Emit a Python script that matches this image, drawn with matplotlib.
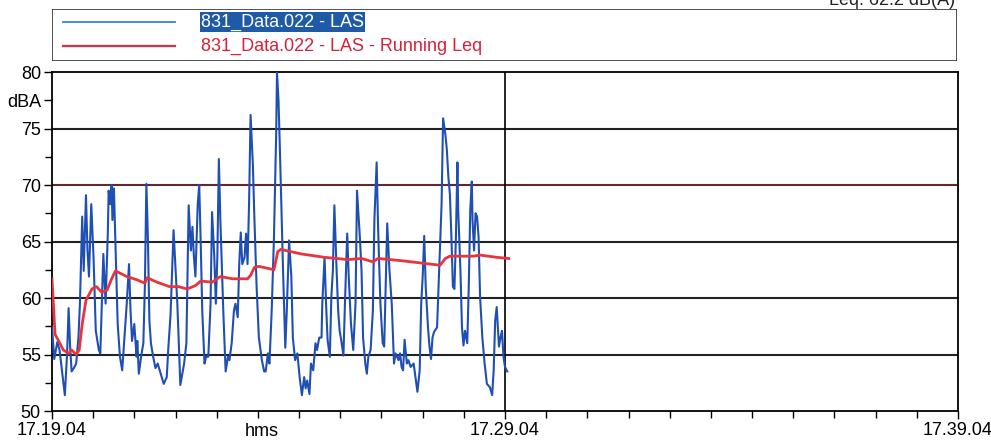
import matplotlib
matplotlib.use("Agg")
import matplotlib.pyplot as plt
from matplotlib.ticker import FuncFormatter, MultipleLocator
from matplotlib.lines import Line2D
from matplotlib.patches import Rectangle

plt.rcParams['font.family'] = ['Liberation Sans', 'DejaVu Sans']

# seconds after 17.19.04
las_t = [0, 3, 7, 10, 17, 20, 22, 24, 26, 29, 32, 35, 37, 40, 42, 45, 47, 49, 52, 55,
         58, 62, 64, 66, 68, 71, 74, 75, 77, 79, 80, 82, 85, 87, 90, 93, 96, 99, 102, 104,
         106, 109, 112, 113, 115, 118, 121, 123, 125, 127, 129, 131, 134, 137, 140, 144, 148, 152, 154, 157,
         161, 166, 170, 175, 178, 181, 184, 186, 188, 190, 193, 195, 197, 199, 202, 204, 207, 210, 212, 215,
         217, 219, 221, 223, 227, 230, 233, 235, 238, 241, 243, 246, 248, 250, 252, 255, 257, 259, 261, 263,
         266, 268, 271, 274, 278, 281, 283, 286, 288, 291, 294, 297, 298, 300, 302, 306, 309, 311, 314, 317,
         319, 322, 325, 328, 331, 334, 336, 338, 341, 343, 346, 349, 351, 354, 357, 358, 361, 363, 365, 368,
         370, 372, 374, 377, 379, 381, 383, 386, 388, 391, 393, 396, 399, 402, 404, 408, 410, 412, 415, 417,
         419, 422, 425, 427, 430, 432, 435, 438, 440, 442, 444, 447, 450, 453, 455, 459, 461, 463, 465, 467,
         470, 472, 475, 479, 482, 484, 487, 489, 491, 493, 495, 498, 500, 502, 504, 506, 510, 512, 514, 516,
         518, 521, 523, 525, 527, 529, 531, 533, 535, 537, 538, 541, 543, 545, 547, 550, 552, 554, 556, 557,
         559, 561, 563, 565, 567, 570, 573, 576, 580, 583, 585, 587, 589, 592, 594, 596, 598, 600, 603]
las_db = [57.4, 54.6, 56.1, 55.4, 51.4, 55.1, 59.1, 55.7, 53.5, 53.8, 54.2, 56.5, 59.5, 67.2, 62.4, 69.1, 64.2, 61.9, 68.3, 63.6,
          57.1, 55.4, 55.1, 59.5, 63.9, 59.5, 65.9, 69.5, 68.3, 70.0, 66.9, 69.7, 62.4, 57.7, 54.8, 53.6, 56.5, 59.5, 63.0, 58.9,
          56.2, 57.7, 54.8, 56.2, 53.3, 54.8, 56.0, 61.0, 70.1, 65.4, 58.0, 56.0, 54.8, 53.8, 54.2, 53.3, 52.4, 53.0, 55.5, 58.5,
          66.0, 59.5, 52.3, 54.2, 56.0, 68.2, 64.2, 66.3, 63.6, 61.9, 68.3, 70.0, 64.8, 58.9, 54.2, 54.8, 54.8, 59.5, 67.6, 63.6,
          59.5, 63.6, 72.3, 66.9, 58.6, 53.5, 54.8, 54.5, 56.0, 58.9, 59.5, 58.3, 63.0, 65.8, 63.0, 63.6, 65.7, 63.0, 68.3, 76.2,
          71.9, 67.2, 61.0, 56.5, 54.5, 53.5, 53.5, 55.1, 54.2, 58.9, 65.4, 74.8, 80.0, 77.5, 72.8, 62.5, 55.6, 58.9, 65.1, 61.9,
          56.5, 54.5, 55.1, 53.0, 51.4, 53.0, 52.0, 52.7, 51.5, 54.2, 53.6, 56.0, 55.4, 56.5, 56.5, 59.5, 63.6, 59.5, 56.3, 54.8,
          60.1, 62.4, 68.2, 62.4, 58.9, 57.1, 56.3, 54.9, 59.5, 65.7, 61.9, 57.7, 55.4, 59.5, 69.5, 65.1, 62.4, 56.5, 54.2, 53.3,
          54.8, 55.4, 58.9, 66.9, 72.0, 66.0, 59.5, 56.0, 55.7, 61.0, 66.6, 62.4, 59.5, 54.2, 55.1, 54.5, 55.1, 53.9, 53.6, 56.3,
          54.2, 54.5, 53.9, 54.2, 52.7, 51.7, 53.6, 59.5, 61.9, 65.5, 61.0, 57.4, 55.7, 54.6, 56.5, 57.0, 57.4, 61.0, 64.5, 68.3,
          75.9, 74.5, 73.1, 70.7, 69.2, 65.4, 61.0, 60.8, 65.4, 72.0, 67.8, 62.4, 57.4, 55.8, 57.1, 56.0, 61.0, 67.8, 70.3, 66.9,
          64.2, 67.5, 67.2, 65.4, 60.1, 56.5, 54.2, 52.4, 52.1, 51.4, 53.6, 58.0, 59.2, 55.7, 56.5, 57.1, 54.8, 53.9, 53.5]

leq_t = [0, 4, 8, 15, 22, 26, 32, 36, 40, 45, 53, 59, 66, 73, 79, 84, 99, 113, 123, 126,
         139, 156, 168, 179, 190, 197, 212, 223, 239, 259, 263, 268, 274, 294, 299, 303, 330, 361, 392, 410,
         425, 432, 463, 514, 521, 527, 558, 567, 589, 605]
leq_db = [61.7, 56.8, 56.3, 55.4, 55.1, 55.4, 55.0, 55.4, 57.7, 59.8, 60.8, 61.0, 60.5, 60.7, 61.7, 62.4, 61.9, 61.6, 61.3, 61.8,
          61.4, 61.0, 61.0, 60.8, 61.1, 61.5, 61.4, 61.9, 61.7, 61.7, 62.0, 62.7, 62.8, 62.5, 64.1, 64.3, 63.9, 63.6, 63.4, 63.5,
          63.2, 63.5, 63.3, 62.9, 63.5, 63.7, 63.7, 63.8, 63.6, 63.5]

labels = ["831_Data.022 - LAS", "831_Data.022 - LAS - Running Leq"]
start = 17 * 3600 + 19 * 60 + 4


def hms(x, pos):
    s = int(round(start + x))
    return "%d.%02d.%02d" % (s // 3600, (s // 60) % 60, s % 60)


fig = plt.figure(figsize=(9.91, 4.41), dpi=100)
ax = fig.add_axes([52 / 991, 30 / 441, 906 / 991, 339 / 441])

for y in [55, 60, 65, 75]:
    ax.axhline(y, color='#222222', lw=1.5, zorder=1)
ax.axhline(70, color='#5e2a2e', lw=1.5, zorder=1)
ax.axvline(600, color='black', lw=1.2, zorder=1)

ax.plot(las_t, las_db, color='#1f4fb4', lw=1.5, zorder=3)
ax.plot(leq_t, leq_db, color='#e8343e', lw=2.0, zorder=4)

ax.set_xlim(0, 1200)
ax.set_ylim(50, 80)
ax.set_xticks([0, 600, 1200])
ax.xaxis.set_major_formatter(FuncFormatter(hms))
ax.xaxis.set_minor_locator(MultipleLocator(600 / 11))
ax.set_yticks([50, 55, 60, 65, 70, 75, 77.5, 80])
ax.set_yticklabels(["50", "55", "60", "65", "70", "75", "dBA", "80"])
ax.set_yticks([52.5, 57.5, 62.5, 67.5, 72.5], minor=True)
ax.tick_params(axis='both', which='major', labelsize=13, length=6, width=1, pad=2)
ax.tick_params(axis='both', which='minor', length=5, width=1)
for sp in ax.spines.values():
    sp.set_linewidth(1.3)

fig.text(262 / 991, 1 - 431 / 441, "hms", fontsize=13, ha='center', va='center')
# partly cut off at the top edge, as in the scan
fig.text(955 / 991, 1 - 5 / 441, "Leq: 62.2 dB(A)", fontsize=13, ha='right', va='baseline', color='#222222')

# legend box
lax = fig.add_axes([52 / 991, 1 - 61 / 441, 905 / 991, 52 / 441])
lax.set_xlim(0, 905)
lax.set_ylim(52, 0)
lax.axis('off')
lax.add_patch(Rectangle((0, 0), 905, 52, fill=False, ec='#333333', lw=1.2))
lax.add_line(Line2D([11, 123], [13, 13], color='#3d7fd0', lw=1.3))
lax.add_line(Line2D([11, 123], [37, 37], color='#d8303e', lw=1.6))
lax.text(149, 13, labels[0], fontsize=13, va='center', color='white',
         bbox=dict(facecolor='#1f5aa8', edgecolor='none', pad=1))
lax.text(149, 37, labels[1], fontsize=13, va='center', color='#d8203a')

fig.savefig("out.png", dpi=100)
